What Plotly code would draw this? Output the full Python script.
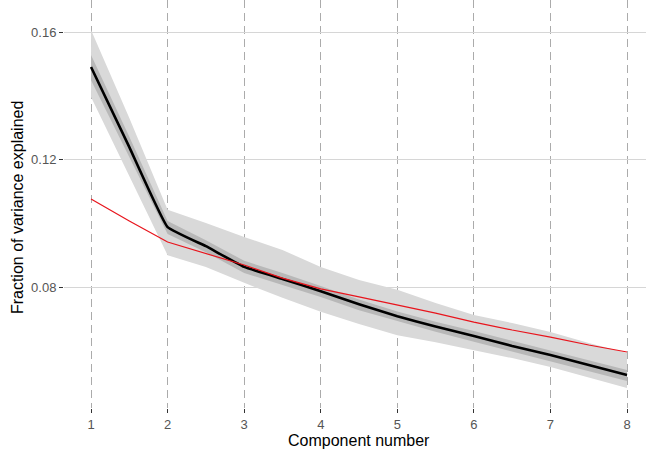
import plotly.graph_objects as go

# Component positions (half-step samples)
x_pos = [1, 1.5, 2, 2.5, 3, 3.5, 4, 4.5, 5, 5.5, 6, 6.5, 7, 7.5, 8]

mean_frac = [0.1490, 0.1239, 0.0988, 0.0928, 0.0863, 0.0825, 0.0787, 0.0746,
             0.0708, 0.0676, 0.0646, 0.0615, 0.0587, 0.0555, 0.0524]
outer_hi = [0.1606, 0.1330, 0.1042, 0.1001, 0.0957, 0.0916, 0.0863, 0.0822,
            0.0791, 0.0750, 0.0712, 0.0687, 0.0659, 0.0624, 0.0593]
outer_lo = [0.1396, 0.1150, 0.0900, 0.0863, 0.0813, 0.0766, 0.0722, 0.0684,
            0.0649, 0.0627, 0.0602, 0.0577, 0.0549, 0.0515, 0.0483]
inner_hi = [0.1528, 0.1271, 0.1007, 0.0947, 0.0882, 0.0844, 0.0803, 0.0761,
            0.0723, 0.0691, 0.0662, 0.0631, 0.0602, 0.0571, 0.0540]
inner_lo = [0.1449, 0.1208, 0.0966, 0.0909, 0.0844, 0.0806, 0.0769, 0.0727,
            0.0693, 0.0660, 0.0628, 0.0597, 0.0568, 0.0537, 0.0505]
null_frac = [0.1076, 0.1007, 0.0941, 0.0904, 0.0869, 0.0828, 0.0794, 0.0769,
             0.0744, 0.0718, 0.0690, 0.0665, 0.0643, 0.0618, 0.0596]

x_ticks = [1, 2, 3, 4, 5, 6, 7, 8]
y_ticks = [0.08, 0.12, 0.16]
y_tick_text = ["0.08", "0.12", "0.16"]

fig = go.Figure()
fig.add_trace(go.Scatter(x=x_pos, y=outer_hi, mode="lines", line=dict(width=0),
                         showlegend=False, hoverinfo="skip"))
fig.add_trace(go.Scatter(x=x_pos, y=outer_lo, mode="lines", line=dict(width=0),
                         fill="tonexty", fillcolor="#d9d9d9", showlegend=False, hoverinfo="skip"))
fig.add_trace(go.Scatter(x=x_pos, y=inner_hi, mode="lines", line=dict(width=0),
                         showlegend=False, hoverinfo="skip"))
fig.add_trace(go.Scatter(x=x_pos, y=inner_lo, mode="lines", line=dict(width=0),
                         fill="tonexty", fillcolor="#b8b8b8", showlegend=False, hoverinfo="skip"))
fig.add_trace(go.Scatter(x=x_pos, y=mean_frac, mode="lines",
                         line=dict(color="black", width=2.6, shape="spline", smoothing=0.3),
                         showlegend=False))
fig.add_trace(go.Scatter(x=x_pos, y=null_frac, mode="lines",
                         line=dict(color="#e8141c", width=1.2), showlegend=False))

font_family = "Liberation Sans, Arial, sans-serif"
fig.update_layout(
    width=646, height=449,
    margin=dict(l=64, r=0, t=0, b=41),
    plot_bgcolor="white", paper_bgcolor="white",
    font=dict(family=font_family),
    xaxis=dict(range=[0.647, 8.248], tickvals=x_ticks, ticks="outside", ticklen=4,
               tickcolor="#333333", tickwidth=1,
               showgrid=True, gridcolor="#ababab", gridwidth=0.7, griddash="8px,5px",
               zeroline=False, showline=False,
               tickfont=dict(size=13, color="#555555", family=font_family)),
    yaxis=dict(range=[0.04204, 0.17004], tickvals=y_ticks, ticktext=y_tick_text,
               ticks="outside", ticklen=4, tickcolor="#333333", tickwidth=1,
               showgrid=True, gridcolor="#d6d6d6", gridwidth=1,
               zeroline=False, showline=False,
               tickfont=dict(size=13, color="#555555", family=font_family)),
    annotations=[
        dict(text="Component number", xref="paper", yref="paper", x=0.5069, y=0,
             yshift=-32, xanchor="center", yanchor="middle", showarrow=False,
             font=dict(size=16, color="black", family=font_family)),
        dict(text="Fraction of variance explained", xref="paper", yref="paper",
             x=0, xshift=-47, y=0.49, xanchor="center", yanchor="middle",
             textangle=-90, showarrow=False,
             font=dict(size=16, color="black", family=font_family)),
    ],
)

fig.write_html("out.html", config={"displayModeBar": False},
               post_script="document.body.style.margin='0px';document.body.style.overflow='hidden';")
